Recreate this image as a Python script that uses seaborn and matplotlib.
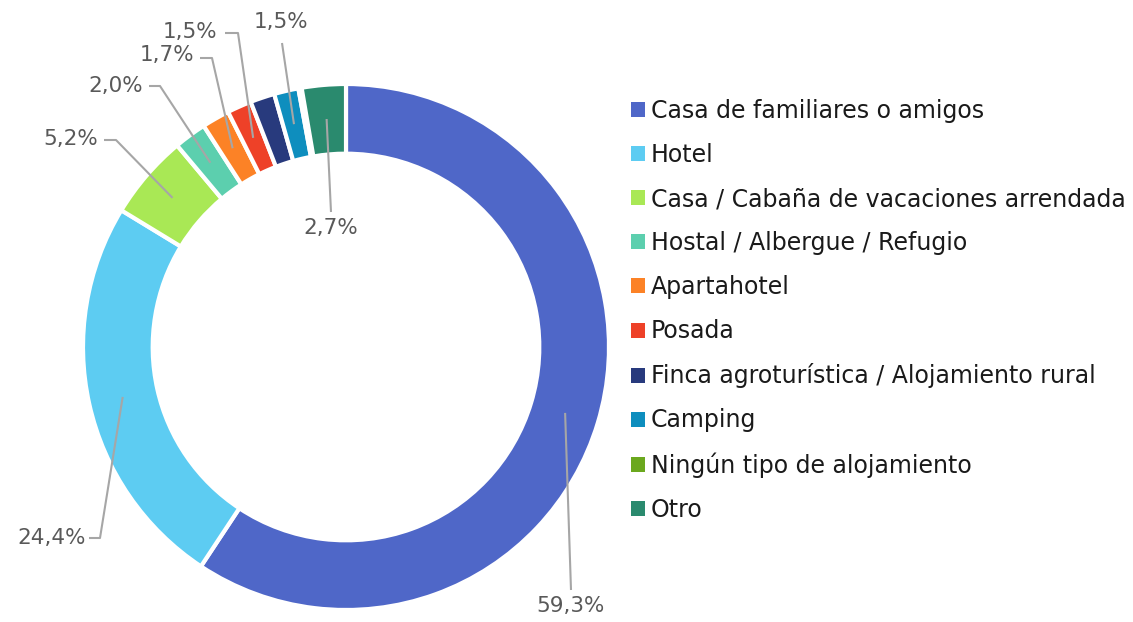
import matplotlib
matplotlib.use("Agg")
import matplotlib.pyplot as plt
from matplotlib.patches import Patch
import seaborn as sns
import numpy as np

# ---- data ----
categories = ["Casa de familiares o amigos", "Hotel", "Casa / Cabaña de vacaciones arrendada",
              "Hostal / Albergue / Refugio", "Apartahotel", "Posada",
              "Finca agroturística / Alojamiento rural", "Camping",
              "Ningún tipo de alojamiento", "Otro"]
values = [59.3, 24.4, 5.2, 2.0, 1.7, 1.5, 1.5, 1.5, 0.2, 2.7]
value_labels = ["59,3%", "24,4%", "5,2%", "2,0%", "1,7%", "1,5%", None, "1,5%", None, "2,7%"]
colors = ["#4F67C8", "#5DCCF2", "#A9E855", "#5CCFAE", "#FC8226", "#EE4128",
          "#283A7D", "#0E8EBE", "#6BA81E", "#2A8A6E"]

sns.set_theme(style="white")
plt.rcParams['font.family'] = ['DejaVu Sans']

W, H = 1133, 622
cx, cy, R = 346, 347, 263

fig = plt.figure(figsize=(W / 100, H / 100), dpi=100)
ax = fig.add_axes([0, 0, 1, 1])

wedges, _ = ax.pie(values, colors=colors, startangle=90, counterclock=False, radius=1,
                   wedgeprops=dict(width=0.265, edgecolor="white", linewidth=3))
ax.set_xlim(-cx / R, (W - cx) / R)
ax.set_ylim(-(H - cy) / R, cy / R)
ax.set_aspect("auto")
ax.axis("off")


def d(px, py):
    return (px - cx) / R, (cy - py) / R


# label layout: (text pos px, ha, leader path points px after anchor)
layout = {
    0: ((571, 606), "center", [(571, 590)]),
    1: ((86, 538), "right", [(100, 538), (89, 538)]),
    2: ((98, 139), "right", [(116, 140), (104, 140)]),
    3: ((143, 86), "right", [(160, 86), (149, 86)]),
    4: ((194, 55), "right", [(212, 58), (200, 58)]),
    5: ((217, 32), "right", [(238, 33), (225, 33)]),
    7: ((281, 22), "center", [(282, 43)]),
    9: ((331, 228), "center", [(331, 212)]),
}

gray_line = "#A6A6A6"
txt_col = "#595959"
for i, w in enumerate(wedges):
    if value_labels[i] is None or i not in layout:
        continue
    ang = np.deg2rad((w.theta1 + w.theta2) / 2)
    ax_x, ax_y = 0.87 * np.cos(ang), 0.87 * np.sin(ang)
    (tx, ty), ha, path = layout[i]
    xs = [ax_x] + [d(*p)[0] for p in path]
    ys = [ax_y] + [d(*p)[1] for p in path]
    ax.plot(xs, ys, color=gray_line, lw=1.5, solid_capstyle="butt", clip_on=False)
    px, py = d(tx, ty)
    ax.text(px, py, value_labels[i], ha=ha, va="center", fontsize=15.5, color=txt_col)

handles = [Patch(facecolor=c, edgecolor="none") for c in colors]
leg = fig.legend(handles, categories, loc="upper left",
                 bbox_to_anchor=(631 / W, 1 - 99 / H), frameon=False,
                 fontsize=17, handlelength=0.6, handleheight=0.6,
                 handletextpad=0.25, labelspacing=0.85, borderpad=0, borderaxespad=0)
for t in leg.get_texts():
    t.set_color("#1a1a1a")

fig.savefig("out.png", dpi=100, facecolor="white")
